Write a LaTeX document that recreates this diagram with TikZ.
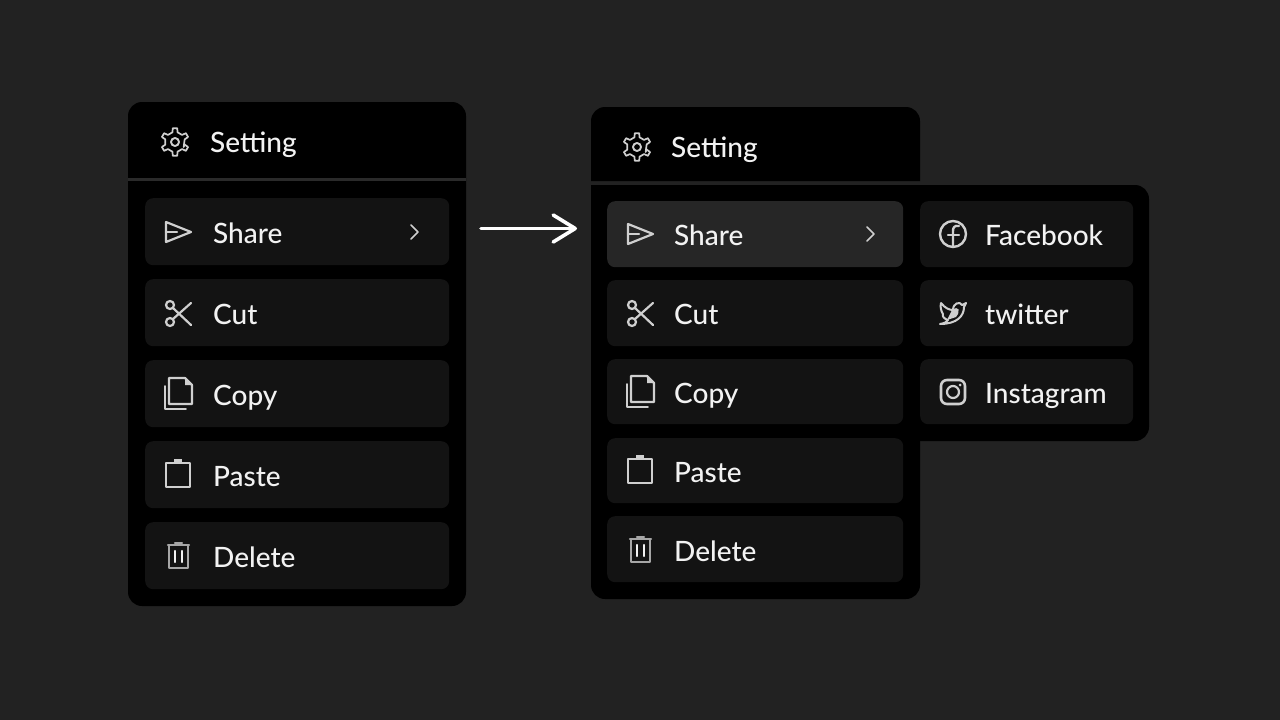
\documentclass[tikz,border=0pt]{standalone}
\usepackage{fontspec}
\setmainfont{Lato Medium}
\usetikzlibrary{arrows.meta, calc}

\definecolor{pageColor}{HTML}{222222}
\definecolor{rowColor}{HTML}{131313}
\definecolor{hoverColor}{HTML}{262626}
\definecolor{dividerColor}{HTML}{2A2A2A}
\definecolor{labelColor}{HTML}{F2F2F2}
\definecolor{iconColor}{HTML}{CFCFCF}

\tikzset{
    menurow/.style={fill=rowColor, rounded corners=8pt, inner sep=0pt, anchor=north west},
    rowlabel/.style={text=labelColor, inner sep=0pt, anchor=base west, font=\fontsize{28}{30}\selectfont},
    iconline/.style={draw=iconColor, line width=2.2pt, line join=round, line cap=round},
    pics/gear/.style={code={
        \draw[iconline, line width=1.7pt] (30:10) \foreach \a in {30,90,...,330} {
            -- ({\a-15}:10) -- ({\a-9}:14) -- ({\a+9}:14) -- ({\a+15}:10)
        } -- cycle;
        \draw[iconline, line width=1.9pt] (0,0) circle (4);
    }},
    pics/send/.style={code={
        \draw[iconline] (-12,-10) -- (13,0) -- (-12,10) -- cycle;
        \draw[iconline] (-12,0) -- (-1,0);
    }},
    pics/scissors/.style={code={
        \draw[iconline] (-8,-8) circle (4);
        \draw[iconline] (-8,9) circle (4);
        \draw[iconline] (-5,-5) -- (13,12);
        \draw[iconline] (-5,6) -- (13,-10);
    }},
    pics/copydoc/.style={code={
        \draw[iconline] (-9,-16) -- (7,-16) -- (14,-9) -- (14,10) -- (-9,10) -- cycle;
        \fill[iconColor] (7,-16) -- (14,-9) -- (7,-9) -- cycle;
        \draw[iconline, line width=1.8pt] (-13,-8) -- (-13,15) -- (8,15);
    }},
    pics/clipboard/.style={code={
        \draw[iconline, line width=2.6pt] (-12,-11) rectangle (12,13);
        \fill[iconColor] (-4,-15) rectangle (4,-10);
    }},
    pics/trash/.style={code={
        \draw[iconline, line width=2.6pt, draw=iconColor!80!black] (-9,-10) rectangle (10,13);
        \draw[iconline, draw=iconColor!80!black] (-10,-10) -- (11,-10);
        \draw[iconline, draw=iconColor!80!black] (-3,-12) -- (4,-12);
        \draw[iconline, draw=labelColor] (-3,-4) -- (-3,7);
        \draw[iconline, draw=labelColor] (4,-4) -- (4,7);
    }},
    pics/chevron/.style={code={
        \draw[iconline, line width=1.5pt] (-3,-7) -- (4,0) -- (-3,7);
    }},
    pics/facebook/.style={code={
        \draw[iconline, line width=2.4pt] (0,0) circle (13);
        \draw[iconline, line width=2.4pt] (6,-8) .. controls (1,-9) and (0,-6) .. (0,-3) -- (0,13);
        \draw[iconline, line width=2.4pt] (-5,1) -- (6,1);
    }},
    pics/twitter/.style={code={
        \draw[iconline, line width=2pt] (-12,-10) .. controls (-8,-5) and (-4,-3) .. (0,-3)
            .. controls (0,-10) and (7,-12) .. (9,-8) -- (13,-10) -- (11,-6)
            .. controls (11,3) and (4,11) .. (-13,11)
            .. controls (-8,10) and (-6,9) .. (-5,7)
            .. controls (-9,6) and (-11,3) .. (-10,1)
            .. controls (-12,-2) and (-13,-6) .. (-12,-10);
        \fill[iconColor] (-1,-3) .. controls (6,-8) and (8,-2) .. (3,4) -- (-6,7) -- cycle;
    }},
    pics/instagram/.style={code={
        \draw[iconline, line width=2.6pt, rounded corners=6pt] (-12,-12) rectangle (12,12);
        \draw[iconline] (0,0) circle (6);
        \fill[iconColor] (7,-7) circle (1.5);
    }}
}

\begin{document}
\begin{tikzpicture}[x=1pt, y=-1pt]
    % Background
    \fill[pageColor] (0,0) rectangle (1280,720);

    % --- LEFT MENU ---
    \fill[black] (128,102) [rounded corners=14pt] rectangle (466,606);
    \fill[dividerColor] (128,178) rectangle (466,181);
    \node[rowlabel] (leftTitle) at (210,152) {Setting};
    \pic at (175,142) {gear};

    % rows: top, baseline, icon centre, icon, text, name
    \foreach \y/\b/\c/\ic/\txt/\nm in {198/243/232/send/Share/Share, 279/324/313/scissors/Cut/Cut,
        360/405/394/copydoc/Copy/Copy, 441/486/474/clipboard/Paste/Paste, 522/567/555/trash/Delete/Delete} {
        \node[menurow, minimum width=304pt, minimum height=67pt] (left\nm) at (145,\y) {};
        \node[rowlabel] (leftLabel\nm) at (213,\b) {\txt};
        \pic at (178,\c) {\ic};
    }
    \pic at (414,232) {chevron};

    % --- ARROW ---
    \coordinate (arrowStart) at (481,228.5);
    \coordinate (arrowEnd) at (577,228.5);
    \draw[white, line width=3.6pt, line cap=round, -{Straight Barb[length=22pt, width=27pt, round]}] (arrowStart) -- (arrowEnd);

    % --- RIGHT MENU ---
    % Header
    \fill[black] (591,181) [rounded corners=14pt] -- (591,107) -- (920,107) [sharp corners] -- (920,181) -- cycle;
    \node[rowlabel] (rightTitle) at (671,157) {Setting};
    \pic at (637,147) {gear};

    % Body and flyout
    \fill[black] (591,185) [rounded corners=14pt] -- (591,599) -- (920,599) [sharp corners] -- (920,185) -- cycle;
    \fill[black] (910,441) [rounded corners=14pt] -- (1149,441) -- (1149,185) [sharp corners] -- (910,185) -- cycle;

    \node[menurow, fill=hoverColor, minimum width=296pt, minimum height=66pt] (rightShare) at (607,201) {};
    \foreach \y/\h/\nm in {280/66/Cut, 359/65/Copy, 438/65/Paste, 516/66/Delete} {
        \node[menurow, minimum width=296pt, minimum height=\h pt] (right\nm) at (607,\y) {};
    }
    \foreach \b/\c/\ic/\txt in {245/234/send/Share, 324/313/scissors/Cut, 403/392/copydoc/Copy,
        482/470/clipboard/Paste, 561/549/trash/Delete} {
        \node[rowlabel] (rightLabel\txt) at (674,\b) {\txt};
        \pic at (640,\c) {\ic};
    }
    \pic at (870,234) {chevron};

    % Flyout rows
    \foreach \y/\h/\b/\c/\ic/\txt in {201/66/245/234/facebook/Facebook, 280/66/324/313/twitter/twitter,
        359/65/403/392/instagram/Instagram} {
        \node[menurow, minimum width=213pt, minimum height=\h pt] (fly\txt) at (920,\y) {};
        \node[rowlabel] (flyLabel\txt) at (985,\b) {\txt};
        \pic at (953,\c) {\ic};
    }
\end{tikzpicture}
\end{document}
